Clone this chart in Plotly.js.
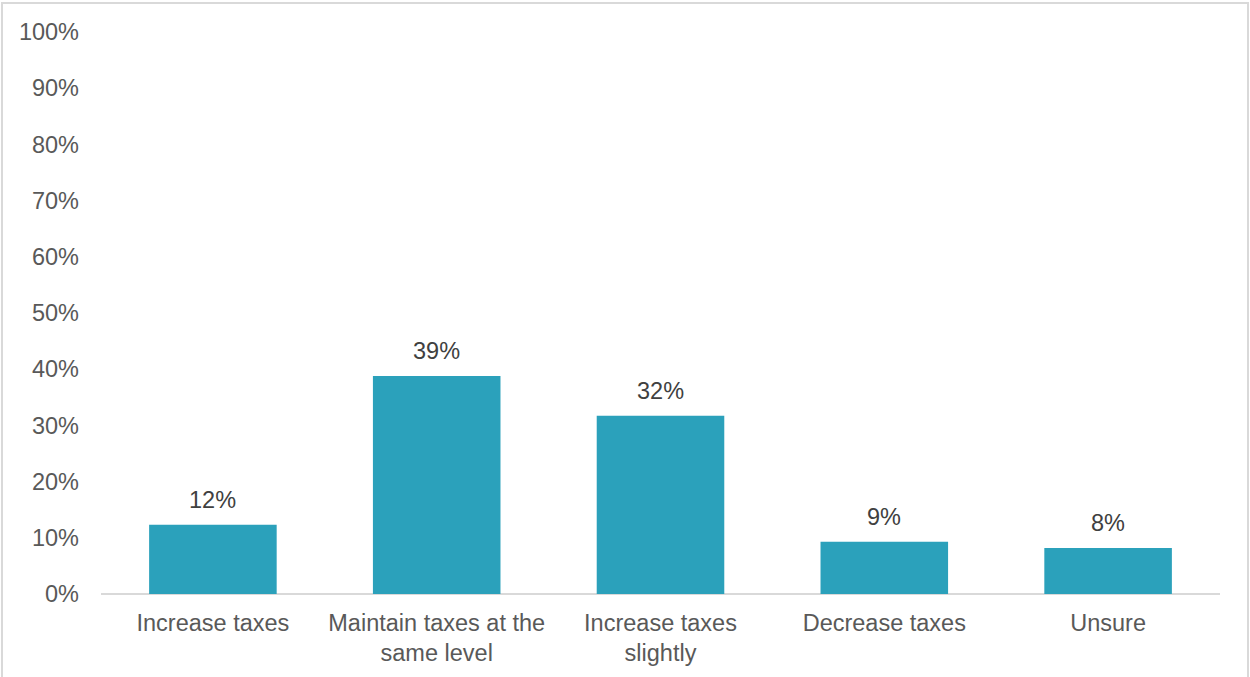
<!DOCTYPE html>
<html>
<head>
<meta charset="utf-8">
<script src="https://cdn.plot.ly/plotly-3.0.1.min.js"></script>
<style>
html, body { margin: 0; padding: 0; background: #fff; }
#chart { width: 1250px; height: 677px; }
</style>
</head>
<body>
<div id="chart"></div>
<script>
const categories = ["Increase taxes", "Maintain taxes at the<br>same level", "Increase taxes<br>slightly", "Decrease taxes", "Unsure"];
const values = [12.3, 38.8, 31.7, 9.3, 8.2];
const yTickVals = [0, 10, 20, 30, 40, 50, 60, 70, 80, 90, 100];
const yTickText = ["0%", "10%", "20%", "30%", "40%", "50%", "60%", "70%", "80%", "90%", "100%"];

const textColor = "#595959";
const fontFamily = "Liberation Sans, Arial, sans-serif";
const fontSize = 23.5;

const trace = {
  type: "bar",
  x: categories,
  y: values,
  marker: { color: "#2BA1BB" },
  hoverinfo: "skip"
};

const annotations = categories.map((c, i) => ({
  x: c,
  y: values[i],
  xref: "x",
  yref: "y",
  text: Math.round(values[i]) + "%",
  showarrow: false,
  yanchor: "bottom",
  xanchor: "center",
  yshift: 10,
  font: { size: fontSize, color: "#404040", family: fontFamily }
}));

const layout = {
  width: 1250,
  height: 677,
  margin: { l: 101, r: 30, t: 32, b: 83 },
  paper_bgcolor: "#ffffff",
  plot_bgcolor: "#ffffff",
  showlegend: false,
  bargap: 0.43,
  font: { family: fontFamily, size: fontSize, color: textColor },
  xaxis: {
    showgrid: false,
    zeroline: false,
    showline: false,
    ticks: "",
    tickfont: { size: fontSize, color: textColor },
    ticklabelstandoff: 12
  },
  yaxis: {
    range: [0, 100],
    tickvals: yTickVals,
    ticktext: yTickText,
    showgrid: false,
    zeroline: true,
    zerolinecolor: "#D9D9D9",
    zerolinewidth: 2,
    showline: false,
    ticks: "",
    tickfont: { size: fontSize, color: textColor },
    ticklabelstandoff: 21
  },
  annotations: annotations,
  shapes: [
    {
      type: "rect", xref: "paper", yref: "paper",
      x0: (2 - 101) / 1119, x1: (1248 - 101) / 1119,
      y0: (594 - 690) / 562, y1: (594 - 3) / 562,
      line: { color: "#D9D9D9", width: 2 },
      fillcolor: "rgba(0,0,0,0)",
      layer: "below"
    }
  ]
};

Plotly.newPlot("chart", [trace], layout, { staticPlot: true, displayModeBar: false });
</script>
</body>
</html>
